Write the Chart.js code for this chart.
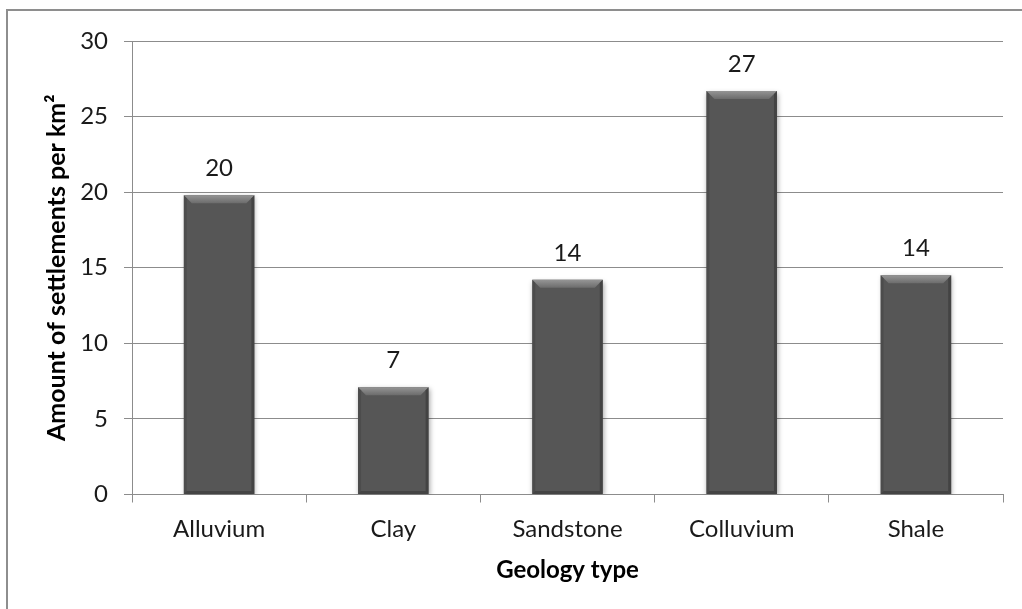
<!DOCTYPE html>
<html>
<head>
<meta charset="utf-8">
<script src="https://cdn.jsdelivr.net/npm/chart.js@4.4.0/dist/chart.umd.min.js"></script>
<style>
html,body{margin:0;padding:0;background:#fff;overflow:hidden;}
#wrap{position:absolute;left:0;top:0;width:1022px;height:609px;}
#frame{position:absolute;left:6px;top:9px;width:1100px;height:700px;border-top:2px solid #8e8e8e;border-left:2px solid #8e8e8e;box-sizing:border-box;}
canvas{position:absolute;left:0;top:0;}
</style>
</head>
<body>
<div id="wrap">
<div id="frame"></div>
<canvas id="c" width="1022" height="609"></canvas>
</div>
<script>
const categories = ["Alluvium", "Clay", "Sandstone", "Colluvium", "Shale"];
const values = [19.8, 7.1, 14.2, 26.7, 14.5];
const valueLabels = ["20", "7", "14", "27", "14"];
const yTicks = [0, 5, 10, 15, 20, 25, 30];

const FONT = "Lato, 'Open Sans', sans-serif";

const bevelPlugin = {
  id: 'bevel',
  afterDatasetsDraw(chart) {
    const ctx = chart.ctx;
    const meta = chart.getDatasetMeta(0);
    meta.data.forEach((bar, i) => {
      const w = bar.width;
      const l = bar.x - w / 2, r = bar.x + w / 2, t = bar.y, b = bar.base;
      const bv = 8;
      ctx.save();
      let g = ctx.createLinearGradient(0, t, 0, t + bv);
      g.addColorStop(0, '#959595');
      g.addColorStop(1, '#6c6c6c');
      ctx.fillStyle = g;
      ctx.beginPath();
      ctx.moveTo(l, t); ctx.lineTo(r, t); ctx.lineTo(r - bv, t + bv); ctx.lineTo(l + bv, t + bv); ctx.closePath();
      ctx.fill();
      ctx.fillStyle = 'rgba(70,70,70,0.55)';
      ctx.beginPath();
      ctx.moveTo(l, t); ctx.lineTo(l + 3, t + 3); ctx.lineTo(l + 3, b - 3); ctx.lineTo(l, b); ctx.closePath();
      ctx.fill();
      ctx.fillStyle = 'rgba(55,55,55,0.6)';
      ctx.beginPath();
      ctx.moveTo(r, t); ctx.lineTo(r - 3, t + 3); ctx.lineTo(r - 3, b - 3); ctx.lineTo(r, b); ctx.closePath();
      ctx.fill();
      ctx.fillStyle = 'rgba(50,50,50,0.5)';
      ctx.beginPath();
      ctx.moveTo(l, b); ctx.lineTo(l + 3, b - 3); ctx.lineTo(r - 3, b - 3); ctx.lineTo(r, b); ctx.closePath();
      ctx.fill();
      ctx.restore();
      ctx.save();
      ctx.fillStyle = '#1a1a1a';
      ctx.font = "24px " + FONT;
      ctx.textAlign = 'center';
      ctx.textBaseline = 'middle';
      ctx.fillText(valueLabels[i], bar.x, t - 27);
      ctx.restore();
    });
  }
};

const shadowPlugin = {
  id: 'barShadow',
  beforeDatasetsDraw(chart) {
    const ctx = chart.ctx;
    ctx.save();
    ctx.shadowColor = 'rgba(0,0,0,0.35)';
    ctx.shadowBlur = 5;
    ctx.shadowOffsetX = 1;
    ctx.shadowOffsetY = 2;
  },
  afterDatasetsDraw(chart) {
    chart.ctx.restore();
  }
};

new Chart(document.getElementById('c'), {
  type: 'bar',
  data: {
    labels: categories,
    datasets: [{
      data: values,
      backgroundColor: '#565656',
      borderWidth: 0,
      categoryPercentage: 1.0,
      barPercentage: 0.405
    }]
  },
  options: {
    responsive: false,
    animation: false,
    events: [],
    layout: { padding: { left: 42, right: 19, top: 41, bottom: 20 } },
    plugins: {
      legend: { display: false },
      tooltip: { enabled: false }
    },
    scales: {
      x: {
        grid: { display: true, drawOnChartArea: false, drawTicks: true, tickLength: 8, color: '#8c8c8c', lineWidth: 1, offset: true },
        border: { display: true, color: '#8c8c8c', width: 1 },
        ticks: { color: '#1a1a1a', font: { family: FONT, size: 24 }, padding: 12 },
        title: { display: true, text: 'Geology type', color: '#000', font: { family: FONT, size: 24, weight: 'bold' }, padding: { top: 4, bottom: 4 } },
        afterFit(s) { s.height = 94.5; }
      },
      y: {
        min: 0, max: 30,
        afterBuildTicks(s) { s.ticks = yTicks.map(v => ({ value: v })); },
        grid: { color: '#8c8c8c', lineWidth: 1, tickLength: 8, drawTicks: true },
        border: { display: true, color: '#8c8c8c', width: 1 },
        ticks: { color: '#1a1a1a', font: { family: FONT, size: 24 }, padding: 16 },
        title: { display: true, text: 'Amount of settlements per km²', color: '#000', font: { family: FONT, size: 25, weight: 'bold' }, padding: { top: 0, bottom: 4 } },
        afterFit(s) { s.width = 90; }
      }
    }
  },
  plugins: [shadowPlugin, bevelPlugin]
});
</script>
</body>
</html>
